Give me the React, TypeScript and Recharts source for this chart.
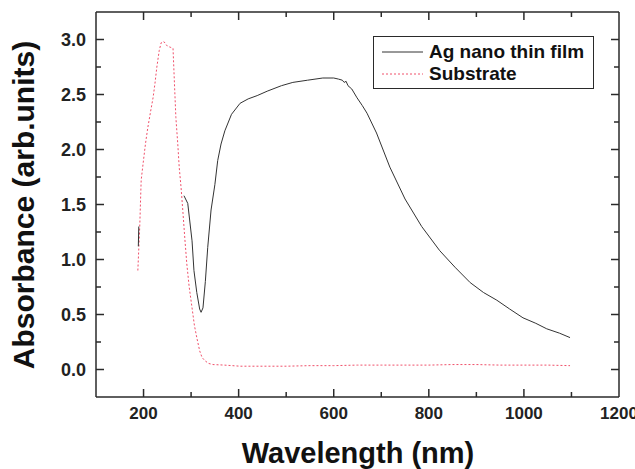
import { Line, LineChart, ReferenceLine, XAxis, YAxis } from "recharts";

// Ag nano thin film absorbance (a null breaks the trace after the short UV stub)
const filmWavelength = [
  189, 190, 240, 285, 293, 302, 306, 312, 318, 321, 325, 330, 335, 342, 350, 356,
  363, 371, 385, 403, 420, 439, 460, 490, 514, 545, 577, 600, 610, 618, 622, 626,
  630, 638, 649, 660, 670, 690, 718, 750, 785, 823, 855, 887, 915, 943, 970, 998,
  1025, 1048, 1075, 1097,
];
const filmAbsorbance = [
  1.12, 1.3, null, 1.58, 1.51, 1.17, 0.9, 0.7, 0.55, 0.52, 0.56, 0.8, 1.11, 1.45, 1.68, 1.9,
  2.05, 2.17, 2.32, 2.42, 2.46, 2.49, 2.53, 2.58, 2.61, 2.63, 2.65, 2.65, 2.64, 2.63, 2.61, 2.62,
  2.58, 2.55, 2.47, 2.4, 2.33, 2.15, 1.84, 1.55, 1.3, 1.08, 0.93, 0.79, 0.7, 0.63, 0.55, 0.47,
  0.42, 0.37, 0.33, 0.29,
];

// bare substrate absorbance
const substrateWavelength = [
  188, 192, 195, 199, 204, 209, 215, 220, 224, 228, 233, 237, 243, 250, 256, 262,
  265, 268, 272, 275, 279, 283, 287, 291, 296, 302, 307, 312, 318, 323, 329, 337,
  346, 370, 403, 450, 500, 550, 600, 650, 700, 750, 800, 850, 900, 950, 1000, 1050, 1097,
];
const substrateAbsorbance = [
  0.9, 1.3, 1.72, 1.87, 2.05, 2.2, 2.35, 2.47, 2.6, 2.75, 2.9, 2.97, 2.98, 2.94, 2.93, 2.92,
  2.6, 2.29, 2.05, 1.84, 1.65, 1.42, 1.18, 0.96, 0.75, 0.56, 0.4, 0.29, 0.17, 0.11, 0.08, 0.055,
  0.045, 0.04, 0.03, 0.03, 0.03, 0.035, 0.035, 0.04, 0.04, 0.04, 0.04, 0.045, 0.045, 0.04, 0.04, 0.04, 0.035,
];

const xTicks = [100, 200, 300, 400, 500, 600, 700, 800, 900, 1000, 1100, 1200];
const xLabelled = [200, 400, 600, 800, 1000, 1200];
const yTicks = [0, 0.25, 0.5, 0.75, 1, 1.25, 1.5, 1.75, 2, 2.25, 2.5, 2.75, 3];
const yLabelled = [0, 0.5, 1, 1.5, 2, 2.5, 3];

const X_DOMAIN: [number, number] = [100, 1200];
const Y_DOMAIN: [number, number] = [-0.25, 3.25];

const filmData = filmWavelength.map((wl, i) => ({ wl, abs: filmAbsorbance[i] }));
const substrateData = substrateWavelength.map((wl, i) => ({ wl, abs: substrateAbsorbance[i] }));

const FONT = "'Liberation Sans', Arial, sans-serif";
const FRAME = "#2a2a2a";
const FILM_COLOR = "#333333";
const SUBSTRATE_COLOR = "#f0506a";

// plot box
const PLOT_LEFT = 96;
const PLOT_TOP = 12;
const PLOT_RIGHT = 619;
const PLOT_BOTTOM = 397;
const MAJOR = 8;
const MINOR = 5;

// pixels per data unit, used to size the inward tick marks
const X_PX = (PLOT_RIGHT - PLOT_LEFT) / (X_DOMAIN[1] - X_DOMAIN[0]);
const Y_PX = (PLOT_BOTTOM - PLOT_TOP) / (Y_DOMAIN[1] - Y_DOMAIN[0]);

const isMajor = (v: number, list: number[]) => list.some((m) => Math.abs(m - v) < 1e-6);

// inward tick segments on all four sides of the frame
const innerX = xTicks.filter((v) => v > X_DOMAIN[0] && v < X_DOMAIN[1]);
const xTickSegments = innerX.flatMap((v) => {
  const len = (isMajor(v, xLabelled) ? MAJOR : MINOR) / Y_PX;
  return [
    [{ x: v, y: Y_DOMAIN[0] }, { x: v, y: Y_DOMAIN[0] + len }],
    [{ x: v, y: Y_DOMAIN[1] }, { x: v, y: Y_DOMAIN[1] - len }],
  ];
});
const yTickSegments = yTicks.flatMap((v) => {
  const len = (isMajor(v, yLabelled) ? MAJOR : MINOR) / X_PX;
  return [
    [{ x: X_DOMAIN[0], y: v }, { x: X_DOMAIN[0] + len, y: v }],
    [{ x: X_DOMAIN[1], y: v }, { x: X_DOMAIN[1] - len, y: v }],
  ];
});

function XTickLabel(props: any) {
  if (!isMajor(props.payload.value, xLabelled)) return <g />;
  return (
    <text x={props.x} y={Number(props.y) + 22} textAnchor="middle" fontFamily={FONT} fontWeight="bold" fontSize={17} fill="#222">
      {props.payload.value}
    </text>
  );
}

function YTickLabel(props: any) {
  if (!isMajor(props.payload.value, yLabelled)) return <g />;
  return (
    <text x={Number(props.x) - 10} y={props.y} dy="0.35em" textAnchor="end" fontFamily={FONT} fontWeight="bold" fontSize={18} fill="#222">
      {props.payload.value.toFixed(1)}
    </text>
  );
}

// legend box sits over the chart as plain HTML
function LegendBox() {
  const rows = [
    { name: "Ag nano thin film", color: FILM_COLOR, dash: undefined },
    { name: "Substrate", color: SUBSTRATE_COLOR, dash: "2 2" },
  ];
  return (
    <div
      style={{
        position: "absolute",
        left: 373,
        top: 36,
        boxSizing: "border-box",
        border: `1px solid ${FRAME}`,
        background: "#fff",
        padding: "4px 0 4px 8px",
        width: 221,
        height: 53,
      }}
    >
      {rows.map((r) => (
        <div key={r.name} style={{ display: "flex", alignItems: "center", height: 22 }}>
          <svg width={41} height={10} style={{ marginRight: 6, flex: "none" }}>
            <line x1={0} x2={41} y1={5} y2={5} stroke={r.color} strokeWidth={1} strokeDasharray={r.dash} />
          </svg>
          <span style={{ fontFamily: FONT, fontWeight: "bold", fontSize: 19, color: "#111", whiteSpace: "nowrap" }}>
            {r.name}
          </span>
        </div>
      ))}
    </div>
  );
}

export default function App() {
  return (
    <div style={{ position: "absolute", left: 0, top: 0, width: 635, height: 469, background: "#fff" }}>
      <LineChart width={635} height={469} margin={{ top: PLOT_TOP, right: 635 - PLOT_RIGHT, left: 0, bottom: 0 }}>
        <XAxis
          dataKey="wl"
          type="number"
          domain={X_DOMAIN}
          ticks={xTicks}
          interval={0}
          height={469 - PLOT_BOTTOM}
          tickSize={0}
          tickMargin={0}
          tickLine={false}
          axisLine={{ stroke: FRAME, strokeWidth: 1.5 }}
          tick={(p: any) => <XTickLabel {...p} />}
          label={{
            content: () => (
              <text x={358} y={463} textAnchor="middle" fontFamily={FONT} fontWeight="bold" fontSize={29} fill="#111">
                Wavelength (nm)
              </text>
            ),
          }}
        />
        <YAxis
          type="number"
          domain={Y_DOMAIN}
          ticks={yTicks}
          interval={0}
          width={PLOT_LEFT}
          tickSize={0}
          tickMargin={0}
          tickLine={false}
          axisLine={{ stroke: FRAME, strokeWidth: 1.5 }}
          tick={(p: any) => <YTickLabel {...p} />}
          label={{
            content: () => (
              <text
                transform="translate(34,205) rotate(-90)"
                textAnchor="middle"
                fontFamily={FONT}
                fontWeight="bold"
                fontSize={30}
                fill="#111"
              >
                Absorbance (arb.units)
              </text>
            ),
          }}
        />
        {/* top and right edges of the frame */}
        <ReferenceLine y={Y_DOMAIN[1]} stroke={FRAME} strokeWidth={1.5} />
        <ReferenceLine x={X_DOMAIN[1]} stroke={FRAME} strokeWidth={1.5} />
        {[...xTickSegments, ...yTickSegments].map((seg, i) => (
          <ReferenceLine key={`tick-${i}`} segment={seg} stroke={FRAME} strokeWidth={1.5} />
        ))}
        <Line
          data={substrateData}
          dataKey="abs"
          name="Substrate"
          type="linear"
          stroke={SUBSTRATE_COLOR}
          strokeWidth={1}
          strokeDasharray="2 2"
          dot={false}
          isAnimationActive={false}
        />
        <Line
          data={filmData}
          dataKey="abs"
          name="Ag nano thin film"
          type="linear"
          stroke={FILM_COLOR}
          strokeWidth={1}
          dot={false}
          connectNulls={false}
          isAnimationActive={false}
        />
      </LineChart>
      <LegendBox />
    </div>
  );
}
